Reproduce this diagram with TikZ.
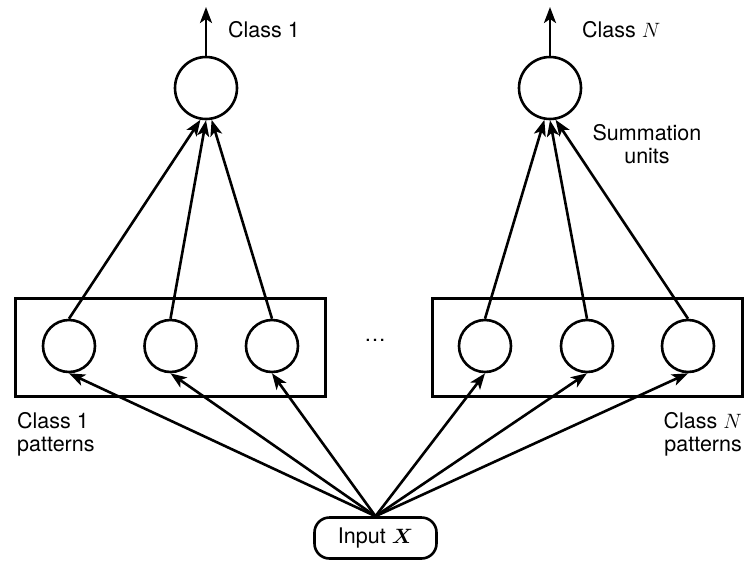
\documentclass[tikz,border=0pt]{standalone}
\usepackage{fontspec}
\setmainfont{TeX Gyre Heros}
\usepackage{bm}
\usetikzlibrary{arrows.meta}
\begin{document}
\begin{tikzpicture}[x=1pt,y=-1pt,
  every node/.style={font=\fontsize{21.5}{23}\selectfont},
  unit/.style={draw,circle,line width=2.6pt,inner sep=0pt},
  sumunit/.style={unit,minimum size=62pt},
  patunit/.style={unit,minimum size=52pt},
  layer/.style={draw,line width=2.6pt,minimum width=310pt,minimum height=98pt},
  link/.style={line width=2.6pt,-{Stealth[length=16pt,width=12pt,inset=4pt]}},
  lbl/.style={inner sep=0pt},
]
\useasboundingbox (0,0) rectangle (756,563);

% pattern layers
\node[layer] (box1) at (170.5,347.5) {};
\node[layer] (boxN) at (587.5,347.5) {};

% pattern units
\node[patunit] (p11) at (69,346) {};
\node[patunit] (p12) at (170.5,346) {};
\node[patunit] (p13) at (272,346) {};
\node[patunit] (pN1) at (485,346) {};
\node[patunit] (pN2) at (587,346) {};
\node[patunit] (pN3) at (688,346) {};
\node[lbl] (dots) at (375,340) {\dots};

% summation units
\node[sumunit] (s1) at (206,88) {};
\node[sumunit] (sN) at (550,88) {};

% input
\node[draw,line width=2.6pt,rounded corners=15pt,minimum width=122pt,minimum height=41pt]
  (inp) at (375.5,538) {Input $\bm{X}$};

% outputs
\coordinate (o1) at (206,7);
\coordinate (oN) at (550,7);
\draw[link] (s1.north) -- (o1);
\draw[link] (sN.north) -- (oN);

% pattern -> summation
\draw[link] (p11.north) -- (s1.-100);
\draw[link] (p12.north) -- (s1.-90);
\draw[link] (p13.north) -- (s1.-80);
\draw[link] (pN1.north) -- (sN.-100);
\draw[link] (pN2.north) -- (sN.-90);
\draw[link] (pN3.north) -- (sN.-80);

% input -> pattern
\foreach \p in {p11,p12,p13,pN1,pN2,pN3}
  \draw[link] (inp.north) -- (\p.south);

% labels (base anchor sits on the last line of multi-line text)
\node[lbl,anchor=base west] (l1) at (228,37) {Class 1};
\node[lbl,anchor=base west] (lN) at (582,37) {Class $N$};
\node[lbl,anchor=base,align=center] (lsum) at (647,163) {Summation\\units};
\node[lbl,anchor=base west,align=left] (lp1) at (17,451) {Class 1\\patterns};
\node[lbl,anchor=base east,align=right] (lpN) at (742,451) {Class $N$\\patterns};
\end{tikzpicture}
\end{document}
